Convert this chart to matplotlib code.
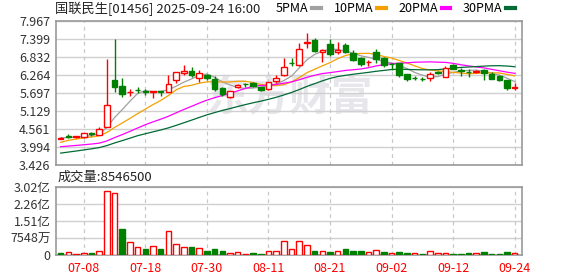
import matplotlib
matplotlib.use("Agg")
import matplotlib.pyplot as plt
from matplotlib.lines import Line2D
import numpy as np
import pandas as pd

plt.rcParams['font.family'] = ['Noto Sans CJK SC', 'DejaVu Sans']

# closes before the first visible day, only used to feed the moving averages
prior_close = [3.35, 3.36, 3.38, 3.37, 3.40, 3.41, 3.42, 3.43, 3.44, 3.44,
               3.90, 3.95, 3.98, 3.97, 4.00, 3.92, 3.80, 3.75, 3.70, 3.68,
               3.67, 3.95, 4.05, 4.13, 4.20, 4.25, 4.30, 4.27, 4.30]

# visible trading days 2025-07-03 .. 2025-09-24
dates = pd.bdate_range('2025-07-03', '2025-09-24')

open_ = [4.26, 4.33, 4.32, 4.30, 4.42, 4.37, 4.64, 6.11, 5.92, 5.72,
         5.80, 5.75, 5.72, 5.75, 5.73, 6.10, 6.32, 6.38, 6.16, 6.26,
         6.15, 5.85, 5.58, 5.87, 5.98, 6.00, 5.87, 5.81, 6.08, 6.25,
         6.64, 6.57, 7.28, 7.37, 7.00, 7.24, 7.00, 7.22, 6.96, 6.81,
         6.67, 6.98, 6.80, 6.62, 6.63, 6.29, 6.17, 6.15, 6.17, 6.35,
         6.21, 6.58, 6.42, 6.36, 6.36, 6.42, 6.29, 6.23, 6.11, 5.85]
high = [4.30, 4.40, 4.35, 4.38, 4.47, 4.64, 6.76, 7.40, 6.16, 5.82,
        5.87, 5.82, 5.77, 5.76, 6.26, 6.36, 6.57, 6.51, 6.41, 6.30,
        6.23, 5.90, 5.77, 5.97, 6.02, 6.05, 5.90, 6.05, 6.26, 6.79,
        6.79, 7.26, 7.58, 7.42, 7.08, 7.39, 7.30, 7.28, 7.05, 6.84,
        6.75, 7.07, 6.82, 6.63, 6.64, 6.30, 6.22, 6.20, 6.37, 6.40,
        6.56, 6.60, 6.50, 6.44, 6.43, 6.44, 6.35, 6.25, 6.12, 6.01]
low = [4.24, 4.27, 4.29, 4.29, 4.34, 4.36, 4.62, 5.74, 5.58, 5.60,
       5.70, 5.63, 5.53, 5.60, 5.72, 6.02, 6.26, 6.20, 6.05, 6.10,
       5.77, 5.60, 5.55, 5.84, 5.90, 5.88, 5.77, 5.78, 6.02, 6.24,
       6.55, 6.55, 7.11, 6.98, 6.68, 6.85, 6.93, 6.95, 6.70, 6.55,
       6.55, 6.65, 6.52, 6.42, 6.20, 6.07, 6.10, 6.09, 6.07, 6.30,
       6.19, 6.44, 6.24, 6.20, 6.32, 6.12, 6.13, 6.07, 5.79, 5.79]
close = [4.28, 4.32, 4.33, 4.42, 4.41, 4.57, 5.31, 5.90, 5.67, 5.74,
         5.79, 5.74, 5.76, 5.73, 5.97, 6.35, 6.38, 6.27, 6.32, 6.16,
         5.83, 5.67, 5.76, 5.95, 5.97, 5.92, 5.79, 6.03, 6.18, 6.53,
         6.63, 7.07, 7.30, 7.03, 7.05, 6.93, 7.05, 7.00, 6.75, 6.62,
         6.68, 6.76, 6.58, 6.60, 6.25, 6.14, 6.16, 6.14, 6.29, 6.34,
         6.50, 6.46, 6.39, 6.35, 6.39, 6.32, 6.14, 6.11, 5.85, 5.87]
# volume in shares
volume = [8.8e6, 13e6, 4.4e6, 8.8e6, 8.8e6, 17.7e6, 281e6, 272e6, 115e6, 57.5e6,
          35e6, 26.5e6, 38e6, 26.5e6, 106e6, 48.6e6, 34e6, 35e6, 29.5e6, 17.7e6,
          26.5e6, 17.7e6, 8.8e6, 11.8e6, 4.4e6, 8.8e6, 4.4e6, 16e6, 17.7e6, 62e6,
          25e6, 60.4e6, 43e6, 17.7e6, 17.7e6, 13e6, 16e6, 26.5e6, 17.7e6, 17.7e6,
          13e6, 22e6, 13e6, 8.8e6, 13e6, 8.8e6, 8.8e6, 4.4e6, 17.7e6, 8.8e6,
          8.8e6, 4.4e6, 4.4e6, 8.8e6, 8.8e6, 13e6, 4.4e6, 4.4e6, 13e6, 8546500]

price_ticks = [3.426, 3.994, 4.561, 5.129, 5.697, 6.264, 6.832, 7.399, 7.967]
vol_ticks = [0, 75480000, 150960000, 226440000, 301920000]
vol_labels = ['0', '7548万', '1.51亿', '2.26亿', '3.02亿']
tick_dates = ['07-08', '07-18', '07-30', '08-11', '08-21', '09-02', '09-12', '09-24']

ma_periods = [5, 10, 20, 30]
ma_colors = ['#a0a0a0', '#f5a000', '#ff00ff', '#006a35']

RED = '#ff0000'
GREEN = '#008000'
GRID = '#d0d0d0'
FRAME = '#999999'

x = np.arange(len(close))
o = np.array(open_)
c = np.array(close)
h = np.array(high)
l = np.array(low)
v = np.array(volume)

all_close = pd.Series(prior_close + close)
mas = [all_close.rolling(n).mean().iloc[len(prior_close):].values for n in ma_periods]

prev_close = np.array([prior_close[-1]] + close[:-1])
vol_up = c >= prev_close
candle_up = c >= o

fig = plt.figure(figsize=(5.78, 2.76), dpi=100)
ax = fig.add_axes([56 / 578, 1 - 165 / 276, 466 / 578, 144 / 276])
axv = fig.add_axes([56 / 578, 1 - 255 / 276, 466 / 578, 68.3 / 276])

# --- price pane ---
ax.text(0.502, 0.47, '东方财富', transform=ax.transAxes, ha='center', va='center',
        fontsize=30, fontweight='bold', color='#e6e6eb', zorder=0)

for ma, col in zip(mas, ma_colors):
    ax.plot(x, ma, color=col, lw=0.9, zorder=2)

cols = np.where(candle_up, RED, GREEN)
ax.vlines(x, l, h, colors=cols, lw=1, zorder=3)
body_bottom = np.minimum(o, c)
body_height = np.abs(c - o)
ax.bar(x, body_height, bottom=body_bottom, width=0.72,
       facecolor=np.where(candle_up, 'white', GREEN), edgecolor=cols,
       linewidth=1, zorder=4)

ax.set_ylim(price_ticks[0], price_ticks[-1])
ax.set_yticks(price_ticks)
ax.set_yticklabels(['%.3f' % t for t in price_ticks])

# --- volume pane ---
vcols = np.where(vol_up, RED, GREEN)
axv.bar(x, v, width=0.72, facecolor=np.where(vol_up, 'white', GREEN),
        edgecolor=vcols, linewidth=1, zorder=3)
axv.set_ylim(0, vol_ticks[-1])
axv.set_yticks(vol_ticks)
axv.set_yticklabels(vol_labels)

date_labels = [d.strftime('%m-%d') for d in dates]
tick_pos = [date_labels.index(t) for t in tick_dates]

for a in (ax, axv):
    a.set_xlim(-0.61, len(close) - 0.05)
    a.set_xticks(tick_pos)
    a.grid(axis='y', color=GRID, lw=1, zorder=1)
    for p in tick_pos:
        a.axvline(p, color='#c8c8c8', lw=0.9, ls=(0, (3, 3)), zorder=1)
    a.tick_params(length=0, labelsize=9, colors='#333333', pad=4)
    for s in a.spines.values():
        s.set_color(FRAME)
        s.set_linewidth(1.2)
    a.set_axisbelow(True)

ax.set_xticklabels([])
axv.set_xticklabels(tick_dates)
axv.tick_params(axis='x', colors=RED, pad=5)

# --- header texts ---
fig.text(55 / 578, 1 - 9 / 276, '国联民生[01456] 2025-09-24 16:00', fontsize=9.5,
         color='#222222', va='center', ha='left')
fig.text(58 / 578, 1 - 177 / 276, '成交量:%d' % volume[-1], fontsize=9.5,
         color='#222222', va='center', ha='left')

handles = [Line2D([], [], color=col, lw=3) for col in ma_colors]
labels = ['%dPMA' % n for n in ma_periods]
fig.legend(handles, labels, loc='center right', bbox_to_anchor=(515 / 578, 1 - 9 / 276),
           ncol=4, frameon=False, fontsize=9, handlelength=0.7, handletextpad=0.3,
           columnspacing=1.0, markerfirst=False, borderaxespad=0, borderpad=0)

fig.savefig('out.png', dpi=100)
